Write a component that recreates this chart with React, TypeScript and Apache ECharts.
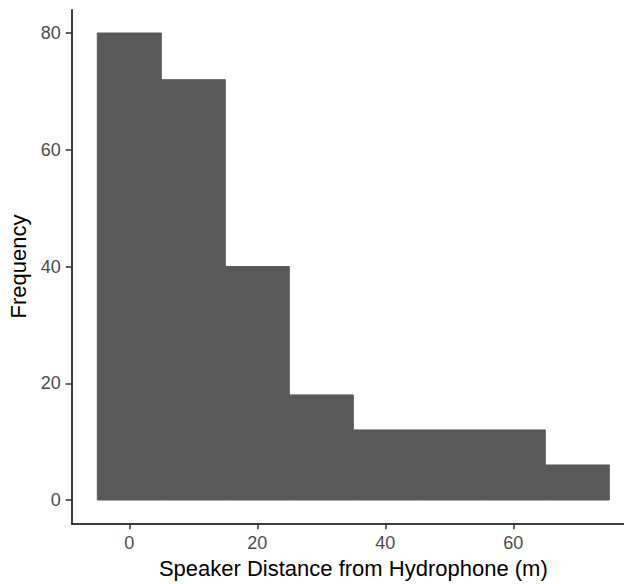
import React, { useEffect, useRef } from "react";
import * as echarts from "echarts";

// Histogram bins: centres (m), common width, and counts per bin
const binCenters = [0, 10, 20, 30, 40, 50, 60, 70];
const binWidth = 10;
const counts = [80, 72, 40, 18, 12, 12, 12, 6];

// Axis tick positions
const xTicks = [0, 20, 40, 60];
const yTicks = [0, 20, 40, 60, 80];

const xTitle = "Speaker Distance from Hydrophone (m)";
const yTitle = "Frequency";

const FONT = "'Liberation Sans', Arial, sans-serif";

export default function App() {
  const ref = useRef<HTMLDivElement>(null);

  useEffect(() => {
    if (!ref.current) return;
    const chart = echarts.init(ref.current, null, { renderer: "svg" });

    const data = binCenters.map((c, i) => [c - binWidth / 2, c + binWidth / 2, counts[i]]);

    chart.setOption({
      animation: false,
      backgroundColor: "#ffffff",
      grid: {
        left: 71.7,
        top: 9.65,
        width: 563.2,
        height: 513.7,
        containLabel: false,
        outerBoundsMode: "none",
      },
      xAxis: {
        type: "value",
        min: -9,
        max: 79,
        splitLine: { show: false },
        axisLine: { show: true, onZero: false, lineStyle: { color: "#000000", width: 1.5 } },
        axisTick: { show: true, customValues: xTicks, length: 6, lineStyle: { color: "#333333", width: 1.5 } },
        axisLabel: {
          customValues: xTicks,
          margin: 11,
          color: "#4D4D4D",
          fontSize: 18,
          fontFamily: FONT,
        },
        name: xTitle,
        nameLocation: "middle",
        nameGap: 34,
        nameTextStyle: { color: "#000000", fontSize: 22, fontFamily: FONT },
      },
      yAxis: {
        type: "value",
        min: -4,
        max: 84,
        splitLine: { show: false },
        axisLine: { show: true, onZero: false, lineStyle: { color: "#000000", width: 1.5 } },
        axisTick: { show: true, customValues: yTicks, length: 6, lineStyle: { color: "#333333", width: 1.5 } },
        axisLabel: {
          customValues: yTicks,
          margin: 11,
          color: "#4D4D4D",
          fontSize: 18,
          fontFamily: FONT,
        },
        name: yTitle,
        nameLocation: "middle",
        nameGap: 38,
        nameTextStyle: { color: "#000000", fontSize: 22, fontFamily: FONT },
      },
      series: [
        {
          type: "custom",
          data,
          encode: { x: [0, 1], y: 2 },
          renderItem: (params: any, api: any) => {
            const topLeft = api.coord([api.value(0), api.value(2)]);
            const bottomRight = api.coord([api.value(1), 0]);
            return {
              type: "rect",
              shape: {
                x: topLeft[0],
                y: topLeft[1],
                width: bottomRight[0] - topLeft[0],
                height: bottomRight[1] - topLeft[1],
              },
              style: { fill: "#595959", stroke: "#595959", lineWidth: 1 },
            };
          },
        },
      ],
    });

    return () => chart.dispose();
  }, []);

  return (
    <div
      ref={ref}
      style={{ position: "fixed", left: 0, top: 0, width: 624, height: 584, background: "#fff" }}
    />
  );
}
